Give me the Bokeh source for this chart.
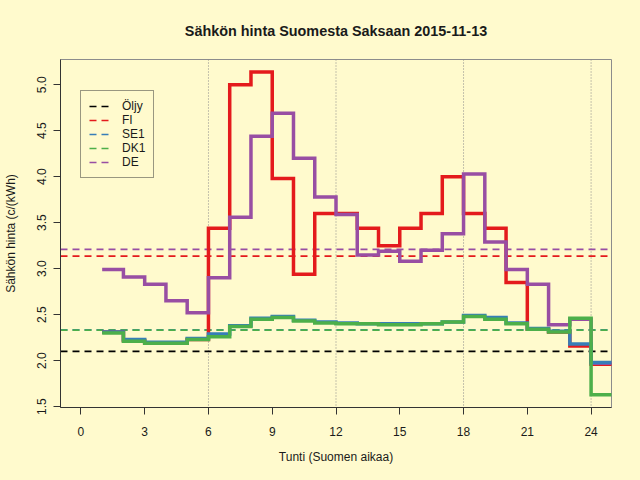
from bokeh.plotting import figure
from bokeh.models import Range1d, FixedTicker, Span, Legend, LegendItem
from bokeh.embed import file_html
from bokeh.resources import INLINE

# ---- data ----
hours = list(range(1, 25))
fi = [2.31, 2.22, 2.19, 2.19, 2.23, 3.44, 5.00, 5.14, 3.98, 2.94, 3.60, 3.60,
      3.44, 3.25, 3.44, 3.60, 4.00, 3.60, 3.44, 2.85, 2.34, 2.31, 2.16, 1.96]
se1 = [2.31, 2.23, 2.20, 2.20, 2.24, 2.29, 2.38, 2.46, 2.48, 2.44, 2.42, 2.41,
       2.40, 2.40, 2.40, 2.40, 2.42, 2.49, 2.47, 2.41, 2.35, 2.32, 2.18, 1.98]
dk1 = [2.30, 2.21, 2.19, 2.19, 2.23, 2.26, 2.37, 2.45, 2.47, 2.43, 2.41, 2.40,
       2.40, 2.39, 2.39, 2.40, 2.42, 2.48, 2.45, 2.40, 2.34, 2.31, 2.46, 1.63]
de = [2.99, 2.91, 2.83, 2.65, 2.52, 2.90, 3.56, 4.44, 4.69, 4.20, 3.78, 3.59,
      3.15, 3.19, 3.08, 3.20, 3.38, 4.03, 3.29, 2.99, 2.83, 2.39, 2.45, 1.97]

series_names = ["Öljy", "FI", "SE1", "DK1", "DE"]
mean_values = [2.10, 3.136, 2.335, 2.332, 3.209]
series_colors = ["#000000", "#E41A1C", "#377EB8", "#4DAF4A", "#984EA3"]

x_ticks = [0, 3, 6, 9, 12, 15, 18, 21, 24]
y_ticks = [1.5, 2.0, 2.5, 3.0, 3.5, 4.0, 4.5, 5.0]
y_tick_labels = ["1.5", "2.0", "2.5", "3.0", "3.5", "4.0", "4.5", "5.0"]
vlines = [6, 12, 18, 24]

title_text = "Sähkön hinta Suomesta Saksaan 2015-11-13"
x_label = "Tunti (Suomen aikaa)"
y_label = "Sähkön hinta (c/(kWh)"

BG = "#FFFACD"
FONT = "Liberation Sans"
TXT = "#1a1a1a"

x_lo, x_hi = -0.96, 24.96
y_lo, y_hi = 1.49, 5.275
FRAME_W, FRAME_H = 551, 348

p = figure(width=640, height=480, output_backend="svg", toolbar_location=None,
           x_range=Range1d(x_lo, x_hi), y_range=Range1d(y_lo, y_hi),
           min_border_left=59, min_border_right=30, min_border_top=59,
           min_border_bottom=73, title=title_text)
p.frame_width = FRAME_W
p.frame_height = FRAME_H

p.background_fill_color = BG
p.border_fill_color = BG
p.outline_line_color = "#8c8c8c"
p.grid.visible = False

p.title.align = "center"
p.title.vertical_align = "top"
p.title.standoff = 37
p.title.text_font = FONT
p.title.text_font_size = "14.4px"
p.title.text_font_style = "bold"
p.title.text_color = TXT

for ax in (p.xaxis[0], p.yaxis[0]):
    ax.axis_line_color = "#333333"
    ax.major_tick_line_color = "#333333"
    ax.major_tick_out = 7
    ax.major_tick_in = 0
    ax.minor_tick_line_color = None
    ax.major_label_text_font = FONT
    ax.major_label_text_font_size = "12px"
    ax.major_label_text_color = TXT
    ax.axis_label_text_font = FONT
    ax.axis_label_text_font_size = "12px"
    ax.axis_label_text_font_style = "normal"
    ax.axis_label_text_color = TXT

p.xaxis.ticker = FixedTicker(ticks=x_ticks)
p.xaxis.axis_label = x_label
p.xaxis.major_label_standoff = 12
p.xaxis.axis_label_standoff = 11

p.yaxis.ticker = FixedTicker(ticks=y_ticks)
p.yaxis.major_label_overrides = {t: l for t, l in zip(y_ticks, y_tick_labels)}
p.yaxis.major_label_orientation = "vertical"
p.yaxis.axis_label = y_label
p.yaxis.major_label_standoff = 7
p.yaxis.axis_label_standoff = 17

# vertical dotted guide lines
for v in vlines:
    p.add_layout(Span(location=v, dimension="height", line_color="#8a8a8a",
                      line_width=1, line_dash="1 2", level="underlay"))

# mean (dashed) lines, used for the legend
mean_renderers = {}
for name, m, c in zip(series_names, mean_values, series_colors):
    r = p.line([x_lo, x_hi], [m, m], line_color=c, line_width=1.7,
               line_dash="7 5")
    mean_renderers[name] = r


def step_path(xs, ys):
    px, py = [], []
    for x, y in zip(xs, ys):
        px += [x, x + 1]
        py += [y, y]
    return px, py


# hourly step lines (drawing order: FI, DE, SE1, DK1)
step_series = [("FI", fi), ("DE", de), ("SE1", se1), ("DK1", dk1)]
col = dict(zip(series_names, series_colors))
for name, vals in step_series:
    sx, sy = step_path(hours, vals)
    p.line(sx, sy, line_color=col[name], line_width=3.5, line_join="miter")

legend = Legend(
    items=[LegendItem(label=n, renderers=[mean_renderers[n]]) for n in series_names],
    location=(20, 229),
    padding=8, spacing=0, margin=0,
    glyph_width=20, glyph_height=14, label_height=14, label_standoff=13,
    label_text_font=FONT, label_text_font_size="12px", label_text_color=TXT,
    border_line_color="#333333", border_line_width=1,
    background_fill_color=BG, background_fill_alpha=1.0,
)
p.add_layout(legend, "center")

html = file_html(p, INLINE)
html = html.replace("<head>", "<head><style>html,body{background:#FFFACD;}</style>", 1)
open("out.html", "w").write(html)
